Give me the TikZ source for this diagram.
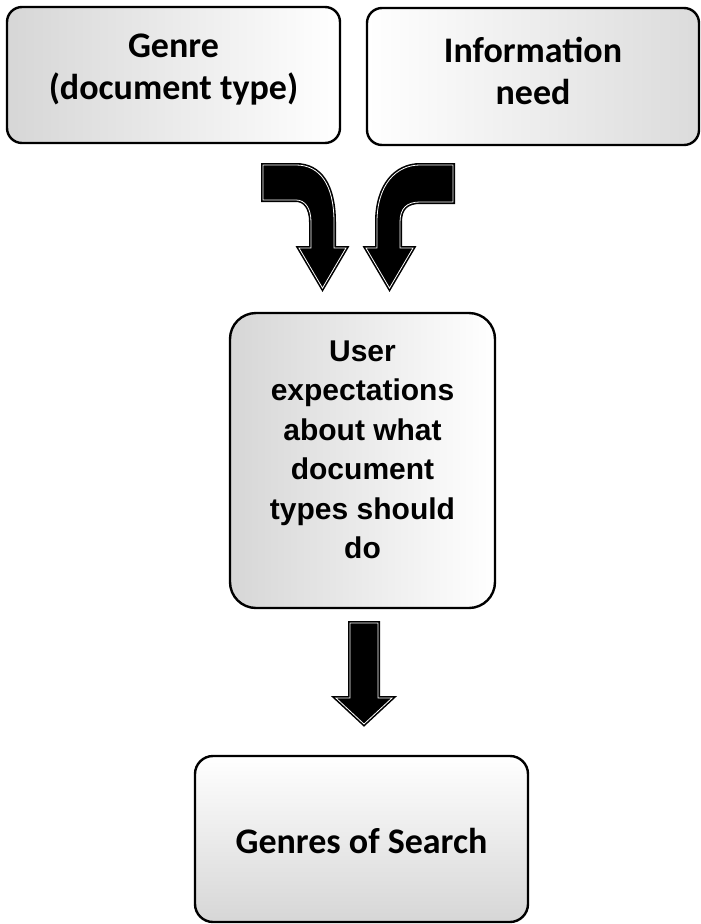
\documentclass[tikz,border=0pt]{standalone}
\usepackage{fontspec}
\newfontfamily\carl{Carlito}
\newfontfamily\libsans{Liberation Sans}
\begin{document}
\begin{tikzpicture}[x=1pt,y=-1pt,
  box/.style={draw=black, line width=2.4pt, rounded corners=#1, inner sep=0pt},
  cfont/.style={font=\carl\bfseries\fontsize{36}{42}\selectfont, align=center, inner sep=0pt},
  afont/.style={font=\libsans\bfseries\fontsize{30}{39.5}\selectfont, align=center, inner sep=0pt},
  blockarrow/.style={draw=white, line width=0.8pt, line join=miter,
    preaction={fill=black, draw=black, line width=4pt, line join=miter}}
]
\useasboundingbox (0,0) rectangle (701,924);

% boxes
\node[box=15pt, minimum width=333pt, minimum height=136pt,
      left color=gray!32, right color=white] (A) at (173.5,75) {};
\node[box=15pt, minimum width=332pt, minimum height=137pt,
      left color=white, right color=gray!28] (B) at (533,76.5) {};
\node[box=26pt, minimum width=265pt, minimum height=295pt,
      left color=gray!32, right color=white] (C) at (362.5,460.5) {};
\node[box=18pt, minimum width=333pt, minimum height=166pt,
      top color=white, bottom color=gray!32] (D) at (361.5,839) {};

% texts
\node[cfont] (At) at (173.5,70) {Genre\\(document type)};
\node[cfont] (Bt) at (533,71) {Information\\need};
\node[afont] (Ct) at (362.5,450) {User\\expectations\\about what\\document\\types should\\do};
\node[cfont, anchor=base] (Dt) at (361.5,853) {Genres of Search};

% curved arrows
\draw[blockarrow] (263,165) -- (296,165)
  .. controls (320,165) and (334,185) .. (334,222)
  -- (334,248) -- (346,248) -- (322.5,288) -- (299,248) -- (311,248)
  -- (311,222) .. controls (311,208) and (305,200) .. (296,200)
  -- (263,200) -- cycle;
\draw[blockarrow] (453,165) -- (420,165)
  .. controls (396,165) and (377,185) .. (377,222)
  -- (377,248) -- (366,248) -- (389.5,288) -- (413,248) -- (400,248)
  -- (400,222) .. controls (400,208) and (407,202) .. (420,202)
  -- (453,202) -- cycle;

% straight arrow
\draw[blockarrow] (350,623) -- (378,623) -- (378,698) -- (392,698)
  -- (364,724) -- (336,698) -- (350,698) -- cycle;
\end{tikzpicture}
\end{document}
